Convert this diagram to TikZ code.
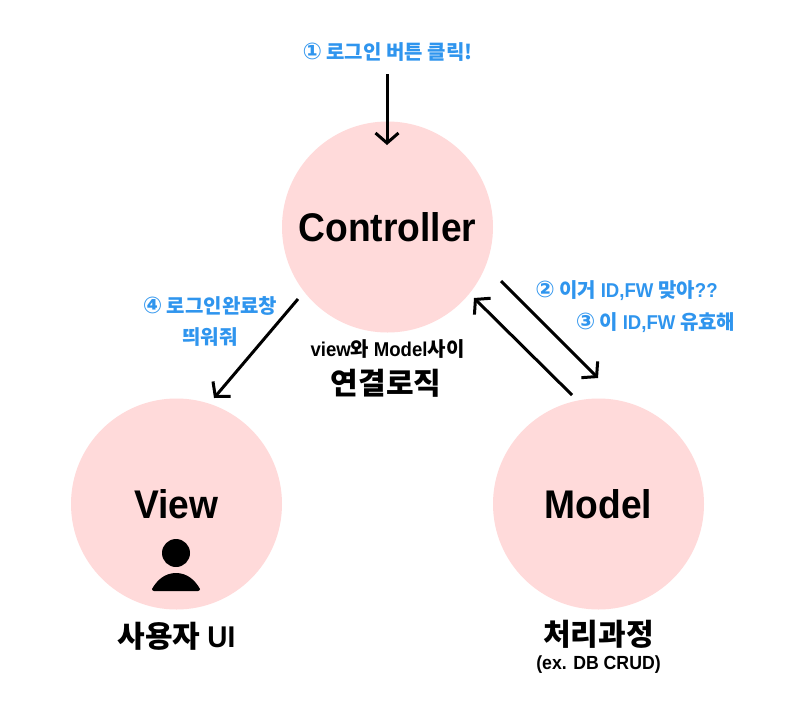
\documentclass[tikz,border=0pt]{standalone}
\usepackage{fontspec}
\setmainfont[FakeStretch=0.93]{Liberation Sans}
\newfontfamily\rbf[FakeStretch=0.93]{Liberation Sans}
\newcommand{\rb}{\rbf\bfseries}
\newfontfamily\kr{Noto Sans CJK KR}
\newfontfamily\sym{DejaVu Sans}
\newcommand{\circnum}[1]{{\sym\fontsize{23}{24}\selectfont #1}}
\usetikzlibrary{arrows.meta}
\definecolor{pinkfill}{HTML}{FFDADA}
\definecolor{bluetext}{HTML}{2F95EE}
\tikzset{
  x=1pt,y=-1pt,
  bubble/.style={circle,fill=pinkfill,draw=none,minimum size=211pt,inner sep=0pt},
  conn/.style={line width=3pt,black,-{Straight Barb[length=10pt,width=23pt,line width=3pt]}},
  title/.style={font=\rb\fontsize{40}{40}\selectfont,inner sep=0pt,anchor=center},
  bluelab/.style={text=bluetext,font=\kr\bfseries\fontsize{20}{31}\selectfont,inner sep=0pt,align=center,anchor=center},
  blacklab/.style={text=black,font=\kr\bfseries\fontsize{30}{30}\selectfont,inner sep=0pt,anchor=center},
  smalllab/.style={text=black,font=\kr\bfseries\fontsize{20}{20}\selectfont,inner sep=0pt,anchor=center},
}
\begin{document}
\begin{tikzpicture}
\useasboundingbox (0,0) rectangle (809,721);
\fill[white] (0,0) rectangle (809,721);
\node[bubble] (ctrl) at (387.5,227) {};
\node[bubble] (view) at (176.5,504) {};
\node[bubble] (model) at (598.5,504) {};
\node[title] (ctrltxt) at (387.5,227) {Controller};
\node[title] (viewtxt) at (176.5,504) {View};
\node[title] (modeltxt) at (598.5,504) {Model};

\coordinate (a1s) at (387,74);
\coordinate (a1e) at (387,145);
\coordinate (a2s) at (501,281);
\coordinate (a2e) at (598,378);
\coordinate (a3s) at (572,395);
\coordinate (a3e) at (474,298);
\coordinate (a4s) at (298,299);
\coordinate (a4e) at (214,398);
\draw[conn] (a1s) -- (a1e);
\draw[conn] (a2s) -- (a2e);
\draw[conn] (a3s) -- (a3e);
\draw[conn] (a4s) -- (a4e);

\node[bluelab] (l1) at (387.5,52) {\circnum{①} 로그인 버튼 클릭!};
\node[bluelab] (l2) at (626.5,291) {\circnum{②} 이거 {\rb ID,FW} 맞아{\rb ??}};
\node[bluelab] (l3) at (655.5,323) {\circnum{③} 이 {\rb ID,FW} 유효해};
\node[bluelab] (l4) at (210,321) {\circnum{④} 로그인완료창\\띄워줘};
\node[smalllab] (l5) at (387.5,349) {{\rb view}와 {\rb Model}사이};
\node[blacklab] (l6) at (386,383) {연결로직};
\node[blacklab] (l7) at (176.5,636) {사용자 {\rb UI}};
\node[blacklab] (l8) at (598.5,634) {처리과정};
\node[smalllab,font=\rb\fontsize{19}{19}\selectfont] (l9) at (598.5,665) {(ex. DB CRUD)};

\fill[black] (176,553) circle (14);
\fill[black] (152,589) .. controls (157,580) and (165,573) .. (176,573)
  .. controls (187,573) and (195,580) .. (200,589)
  .. controls (200,590) and (199,591) .. (198,591) -- (154,591)
  .. controls (153,591) and (152,590) .. (152,589) -- cycle;
\end{tikzpicture}
\end{document}
